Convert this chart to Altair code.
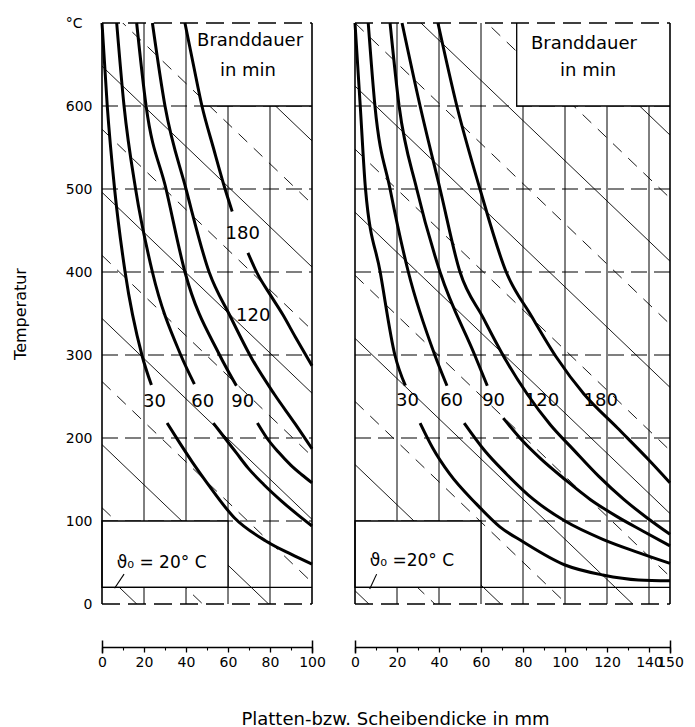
import altair as alt
import pandas as pd

FONT = "DejaVu Sans"
INK = "black"

# ---------------- shared ----------------
Y_MAX = 700
Y_TICKS = [0, 100, 200, 300, 400, 500, 600, 700]
Y_GRID = [100, 200, 300, 400, 500, 600]
HATCH_SLOPE = 2.42          # degC per mm of the background hatching
THETA_BOX_X = [0, 60]
THETA_BOX_Y = [20, 100]
THETA_LINE_Y = 20
CURVE_LABELS = ["30", "60", "90", "120", "180"]
HEAD_TEXT = ["Branddauer", "in min"]
X_TITLE = "Platten-bzw. Scheibendicke in mm"

# ---------------- left panel ----------------
L_XMAX = 100
L_X_TICKS = [0, 20, 40, 60, 80, 100]
L_X_MINOR = [10, 30, 50, 70, 90]
L_X_GRID = [20, 40, 60, 80]
L_HATCH_SOLID = [40, 192, 344, 496, 648, 800, 952]
L_HATCH_DASH = [116, 268, 420, 572, 724, 876]

L30_UP_X = [0, 2.5, 6, 11, 19, 23.5]
L30_UP_Y = [700, 600, 500, 400, 300, 264]
L30_LO_X = [31, 36, 43, 50, 63, 78, 90, 100]
L30_LO_Y = [218, 198, 171, 146, 104, 76, 60, 48]
L60_UP_X = [7, 10.5, 16, 24, 37.5, 44]
L60_UP_Y = [700, 600, 500, 400, 300, 265]
L60_LO_X = [53, 58.5, 64, 69.5, 77, 85.5, 93, 100]
L60_LO_Y = [218, 200, 182, 164, 144, 124, 108, 94]
L90_UP_X = [16.5, 21, 30.5, 39.5, 56, 64]
L90_UP_Y = [700, 600, 500, 400, 300, 263]
L90_LO_X = [74, 78.5, 84, 90, 95, 100]
L90_LO_Y = [218, 200, 183, 167, 156, 146]
L120_X = [24, 30, 40, 51, 61, 71.5, 82, 92, 100]
L120_Y = [700, 600, 500, 400, 347, 295, 253, 217, 187]
L180_UP_X = [39.5, 43.5, 47.6, 53, 58.6, 62]
L180_UP_Y = [700, 650, 600, 550, 500, 473]
L180_LO_X = [69.5, 74, 80, 86, 92, 100]
L180_LO_Y = [423, 398, 373, 349, 322, 287]

L_LABEL_X = [25, 48, 67, 72, 67]
L_LABEL_Y = [243, 243, 243, 347, 446]
L_HEAD_X = [39.5, 43.5, 47.6]
L_HEAD_Y = [700, 650, 600]
L_HEAD_TEXT_X = [70.5, 69.5]
L_HEAD_TEXT_Y = [678, 642]
L_THETA_TEXT = "ϑ₀ = 20° C"
L_THETA_X = [7]
L_THETA_Y = [50]
L_LEADER_X = [6, 10.5]
L_LEADER_Y = [19, 36]

# ---------------- right panel ----------------
R_XMAX = 150
R_X_TICKS = [0, 20, 40, 60, 80, 100, 120, 140, 150]
R_X_MINOR = [10, 30, 50, 70, 90, 110, 130]
R_X_GRID = [20, 40, 60, 80, 100, 120, 140]
R_HATCH_SOLID = [16, 168, 320, 472, 624, 776, 928, 1080]
R_HATCH_DASH = [92, 244, 396, 548, 700, 852, 1004]

R30_UP_X = [0, 2.5, 5, 12, 19, 24]
R30_UP_Y = [700, 600, 500, 400, 300, 263]
R30_LO_X = [31, 37, 45, 58, 69, 80, 100, 118, 135, 150]
R30_LO_Y = [218, 188, 157, 120, 93, 75, 47, 35, 29, 28]
R60_UP_X = [6.3, 9.5, 16.7, 25.4, 38, 43.8]
R60_UP_Y = [700, 600, 500, 400, 300, 263]
R60_LO_X = [52, 62, 72, 85, 100, 118, 135, 150]
R60_LO_Y = [218, 184, 157, 126, 100, 78, 62, 49]
R90_UP_X = [16.7, 21, 29.4, 40.5, 57, 63]
R90_UP_Y = [700, 600, 500, 400, 300, 263]
R90_LO_X = [70.6, 80, 88, 100, 112, 125, 137, 150]
R90_LO_Y = [224, 196, 176, 150, 126, 105, 88, 70]
R120_X = [22.4, 31, 40.5, 50, 61, 72, 82, 93, 104, 116, 128, 139, 150]
R120_Y = [700, 600, 500, 400, 345, 293, 253, 216, 186, 154, 126, 104, 84]
R180_X = [39.5, 48.5, 59.5, 72, 84, 96, 109, 125, 140.5, 150]
R180_Y = [700, 600, 500, 400, 347, 297, 253, 212, 172, 146]

R_LABEL_X = [25, 46, 66, 89, 117]
R_LABEL_Y = [245, 245, 245, 245, 245]
R_HEAD_X = [77, 77]
R_HEAD_Y = [700, 600]
R_HEAD_TEXT_X = [109, 111]
R_HEAD_TEXT_Y = [675, 642]
R_THETA_TEXT = "ϑ₀ =20° C"
R_THETA_X = [7]
R_THETA_Y = [52]
R_LEADER_X = [7, 10.3]
R_LEADER_Y = [18, 36]


def curve_df(segments):
    rows = []
    for sid, (xs, ys) in enumerate(segments):
        for i, (x, y) in enumerate(zip(xs, ys)):
            rows.append({"seg": sid, "i": i, "x": x, "y": y})
    return pd.DataFrame(rows)


def hatch_df(intercepts, xmax):
    return pd.DataFrame({
        "x": [0] * len(intercepts),
        "y": intercepts,
        "x2": [xmax] * len(intercepts),
        "y2": [c - HATCH_SLOPE * xmax for c in intercepts],
    })


def build_panel(xmax, segments, lab_x, lab_y, h_solid, h_dash, x_ticks, x_minor,
                grid_x, head_x, head_y, head_tx, head_ty, theta_text, theta_x,
                theta_y, leader_x, leader_y, show_y, width):
    xs = alt.Scale(domain=[0, xmax], nice=False, zero=False)
    ys = alt.Scale(domain=[0, Y_MAX], nice=False, zero=False)

    axis_kw = dict(values=x_ticks, orient="bottom", offset=43, grid=False,
                   domain=True, domainColor=INK, domainWidth=1.3,
                   ticks=True, tickSize=5, tickColor=INK, tickWidth=1.3,
                   labels=True, labelFont=FONT, labelFontSize=14,
                   labelColor=INK, labelPadding=3, labelOverlap=False,
                   labelFlush=False)
    if show_y:
        axis_kw.update(titleFont=FONT, titleFontSize=18, titleFontWeight="normal",
                       titleColor=INK, titleX=293, titleY=72, titleAlign="center",
                       titleBaseline="middle")
        x_title = X_TITLE
    else:
        x_title = None
    major_axis = alt.Axis(**axis_kw)
    minor_axis = alt.Axis(values=x_minor, orient="bottom", offset=43, grid=False,
                          domain=False, ticks=True, tickSize=3, tickColor=INK,
                          tickWidth=1.1, labels=False)
    cap_axis = alt.Axis(values=[0, xmax], orient="bottom", offset=36, grid=False,
                        domain=False, ticks=True, tickSize=13, tickColor=INK,
                        tickWidth=1.5, labels=False)
    if show_y:
        y_axis = alt.Axis(values=Y_TICKS, orient="left", grid=False, domain=False,
                          ticks=False, labelFont=FONT, labelFontSize=14,
                          labelColor=INK,
                          labelPadding={"condition": {"test": "datum.value == 700",
                                                      "value": 20},
                                        "value": 10},
                          labelExpr="datum.value == 700 ? '°C' : datum.label",
                          titleFont=FONT, titleFontSize=16, titleFontWeight="normal",
                          titleColor=INK, titlePadding=37)
        y_enc = alt.Y("y:Q", scale=ys, axis=y_axis, title="Temperatur")
    else:
        y_enc = alt.Y("y:Q", scale=ys, axis=None)

    def Xn(field="x:Q"):
        return alt.X(field, scale=xs, axis=None)

    def Yn(field="y:Q"):
        return alt.Y(field, scale=ys, axis=None)

    hs = alt.Chart(hatch_df(h_solid, xmax)).mark_rule(
        clip=True, color=INK, strokeWidth=0.9).encode(
        x=alt.X("x:Q", scale=xs, axis=major_axis, title=x_title), y=y_enc,
        x2="x2:Q", y2="y2:Q")
    hd = alt.Chart(hatch_df(h_dash, xmax)).mark_rule(
        clip=True, color=INK, strokeWidth=0.9, strokeDash=[12, 9]).encode(
        x=alt.X("x:Q", scale=xs, axis=minor_axis, title=None), y=Yn(),
        x2="x2:Q", y2="y2:Q")

    gv = alt.Chart(pd.DataFrame({"x": grid_x, "y": [0] * len(grid_x),
                                 "y2": [Y_MAX] * len(grid_x)})).mark_rule(
        color=INK, strokeWidth=1.0).encode(x=Xn(), y=Yn(), y2="y2:Q")
    gh = alt.Chart(pd.DataFrame({"y": Y_GRID, "x": [0] * len(Y_GRID),
                                 "x2": [xmax] * len(Y_GRID)})).mark_rule(
        color=INK, strokeWidth=1.1, strokeDash=[16, 7]).encode(
        y=Yn(), x=Xn(), x2="x2:Q")

    theta_box = alt.Chart(pd.DataFrame({
        "x": [THETA_BOX_X[0]], "x2": [THETA_BOX_X[1]],
        "y": [THETA_BOX_Y[0]], "y2": [THETA_BOX_Y[1]]})).mark_rect(
        fill="white", stroke=INK, strokeWidth=1.3).encode(
        x=Xn(), x2="x2:Q", y=Yn(), y2="y2:Q")

    head_area = alt.Chart(pd.DataFrame({"x": head_x, "y": head_y,
                                        "x2": [xmax] * len(head_x)})).mark_area(
        orient="horizontal", color="white", opacity=1).encode(
        y=Yn(), x=Xn(), x2="x2:Q")
    border_x = head_x + [xmax]
    border_y = head_y + [head_y[-1]]
    head_border = alt.Chart(pd.DataFrame({
        "x": border_x, "y": border_y, "i": list(range(len(border_x)))})).mark_line(
        color=INK, strokeWidth=1.3).encode(x=Xn(), y=Yn(), order="i:Q")

    y20 = alt.Chart(pd.DataFrame({"y": [THETA_LINE_Y], "x": [0], "x2": [xmax]})).mark_rule(
        color=INK, strokeWidth=1.2).encode(y=Yn(), x=Xn(), x2="x2:Q")

    frame_v = alt.Chart(pd.DataFrame({"x": [0, xmax], "y": [0, 0],
                                      "y2": [Y_MAX, Y_MAX]})).mark_rule(
        color=INK, strokeWidth=1.6).encode(
        x=alt.X("x:Q", scale=xs, axis=cap_axis, title=None), y=Yn(), y2="y2:Q")
    frame_h = alt.Chart(pd.DataFrame({"y": [0, Y_MAX], "x": [0, 0],
                                      "x2": [xmax, xmax]})).mark_rule(
        color=INK, strokeWidth=1.4, strokeDash=[18, 8]).encode(
        y=Yn(), x=Xn(), x2="x2:Q")

    curves = alt.Chart(curve_df(segments)).mark_line(
        color=INK, strokeWidth=3, interpolate="monotone").encode(
        x=Xn(), y=Yn(), detail="seg:N", order="i:Q")

    labels = alt.Chart(pd.DataFrame({"x": lab_x, "y": lab_y, "t": CURVE_LABELS})).mark_text(
        font=FONT, fontSize=18, color=INK).encode(x=Xn(), y=Yn(), text="t:N")
    head_txt = alt.Chart(pd.DataFrame({"x": head_tx, "y": head_ty, "t": HEAD_TEXT})).mark_text(
        font=FONT, fontSize=18, color=INK).encode(x=Xn(), y=Yn(), text="t:N")
    theta_txt = alt.Chart(pd.DataFrame({"x": theta_x, "y": theta_y, "t": [theta_text]})).mark_text(
        font=FONT, fontSize=17, color=INK, align="left").encode(x=Xn(), y=Yn(), text="t:N")
    leader = alt.Chart(pd.DataFrame({"x": [leader_x[0]], "x2": [leader_x[1]],
                                     "y": [leader_y[0]], "y2": [leader_y[1]]})).mark_rule(
        color=INK, strokeWidth=1.1).encode(x=Xn(), x2="x2:Q", y=Yn(), y2="y2:Q")

    return alt.layer(
        hs, hd, gv, gh, theta_box, head_area, head_border, y20, frame_v, frame_h,
        curves, labels, head_txt, theta_txt, leader
    ).resolve_axis(x="independent", y="independent").properties(width=width, height=581)


left = build_panel(
    L_XMAX,
    [(L30_UP_X, L30_UP_Y), (L30_LO_X, L30_LO_Y), (L60_UP_X, L60_UP_Y),
     (L60_LO_X, L60_LO_Y), (L90_UP_X, L90_UP_Y), (L90_LO_X, L90_LO_Y),
     (L120_X, L120_Y), (L180_UP_X, L180_UP_Y), (L180_LO_X, L180_LO_Y)],
    L_LABEL_X, L_LABEL_Y, L_HATCH_SOLID, L_HATCH_DASH, L_X_TICKS, L_X_MINOR,
    L_X_GRID, L_HEAD_X, L_HEAD_Y, L_HEAD_TEXT_X, L_HEAD_TEXT_Y, L_THETA_TEXT,
    L_THETA_X, L_THETA_Y, L_LEADER_X, L_LEADER_Y, True, 210)

right = build_panel(
    R_XMAX,
    [(R30_UP_X, R30_UP_Y), (R30_LO_X, R30_LO_Y), (R60_UP_X, R60_UP_Y),
     (R60_LO_X, R60_LO_Y), (R90_UP_X, R90_UP_Y), (R90_LO_X, R90_LO_Y),
     (R120_X, R120_Y), (R180_X, R180_Y)],
    R_LABEL_X, R_LABEL_Y, R_HATCH_SOLID, R_HATCH_DASH, R_X_TICKS, R_X_MINOR,
    R_X_GRID, R_HEAD_X, R_HEAD_Y, R_HEAD_TEXT_X, R_HEAD_TEXT_Y, R_THETA_TEXT,
    R_THETA_X, R_THETA_Y, R_LEADER_X, R_LEADER_Y, False, 315)

chart = alt.hconcat(left, right, spacing=43, bounds="flush").properties(
    padding={"left": 12, "top": 16, "right": 5, "bottom": 0},
).configure(background="white").configure_view(stroke=None)

chart.save("out.html", embed_options={"renderer": "svg", "actions": False})
